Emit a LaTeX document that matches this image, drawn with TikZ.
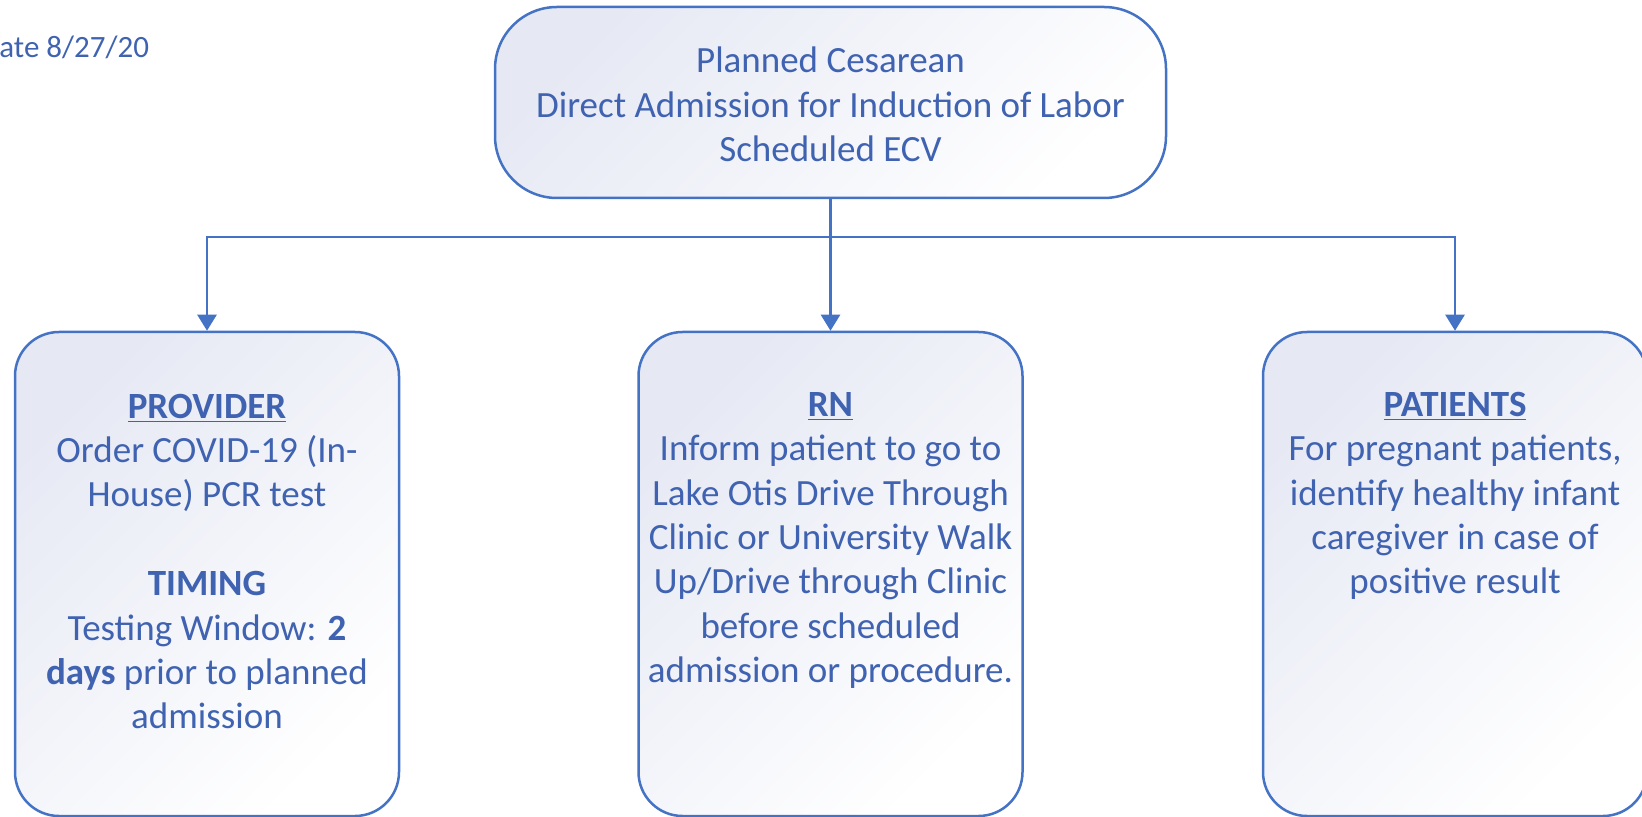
\documentclass[tikz,border=0pt]{standalone}
\usepackage{fontspec}
\setmainfont{Carlito}
\usetikzlibrary{arrows.meta}
\definecolor{lineblue}{HTML}{4472C4}
\definecolor{textblue}{HTML}{3F62B1}
\definecolor{lav}{HTML}{E6E9F4}
\begin{document}
\begin{tikzpicture}[x=0.5pt,y=-0.5pt,
 box/.style={draw=lineblue, line width=1.25pt, rounded corners=22pt, top color=lav, bottom color=white, shading angle=45, inner sep=0pt},
 txt/.style={text=textblue, align=center, font=\fontsize{18.5}{22.2}\selectfont, inner sep=0pt},
 conn/.style={draw=lineblue, line width=1.25pt, -{Triangle[width=9.5pt,length=8pt]}}]
\useasboundingbox (0,0) rectangle (1642,817);
\node[box, minimum width=335.5pt, minimum height=95.5pt, rounded corners=31pt] (top) at (830.5,102.5) {};
\node[box, minimum width=192pt, minimum height=242pt] (lbox) at (207,574) {};
\node[box, minimum width=192pt, minimum height=242pt] (mbox) at (830.5,574) {};
\node[box, minimum width=192pt, minimum height=242pt] (rbox) at (1455,574) {};
\node[txt] (ttext) at (830.5,104.5) {Planned Cesarean\\Direct Admission for Induction of Labor\\Scheduled ECV};
\node[txt] (ltext) at (207,561.5) {\underline{\textbf{PROVIDER}}\\Order COVID-19 (In-\\House) PCR test\\[22.2pt]\textbf{TIMING}\\Testing Window: \textbf{2}\\\textbf{days} prior to planned\\admission};
\node[txt] (mtext) at (830.5,540.5) {\underline{\textbf{RN}}\\Inform patient to go to\\Lake Otis Drive Through\\Clinic or University Walk\\Up/Drive through Clinic\\before scheduled\\admission or procedure.};
\node[txt] (rtext) at (1455,496) {\underline{\textbf{PATIENTS}}\\For pregnant patients,\\identify healthy infant\\caregiver in case of\\positive result};
\node[text=textblue, font=\fontsize{15.5}{18}\selectfont, inner sep=0pt, anchor=base west] (date) at (-1,58) {ate 8/27/20};
\coordinate (j) at (830.5,237);
\draw[conn] (top.south) -- (mbox.north);
\draw[conn] (top.south) -- (j) -| (lbox.north);
\draw[conn] (top.south) -- (j) -| (rbox.north);
\end{tikzpicture}
\end{document}
